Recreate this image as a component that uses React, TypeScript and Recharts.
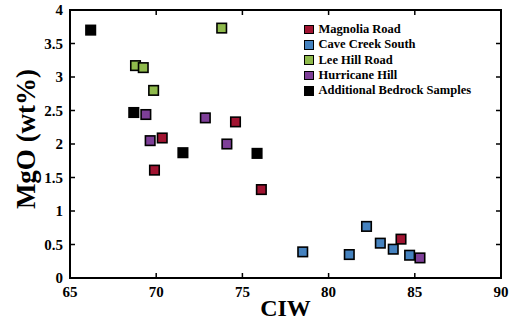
import { ReferenceArea, Scatter, ScatterChart, XAxis, YAxis } from 'recharts';

const magnoliaCiw = [74.6, 70.35, 69.9, 76.1, 84.2];
const magnoliaMgo = [2.33, 2.09, 1.61, 1.32, 0.58];

const caveCreekCiw = [78.5, 81.2, 82.2, 83.0, 83.75, 84.7];
const caveCreekMgo = [0.39, 0.35, 0.77, 0.52, 0.43, 0.34];

const leeHillCiw = [73.8, 68.8, 69.25, 69.85];
const leeHillMgo = [3.73, 3.17, 3.14, 2.8];

const hurricaneCiw = [69.4, 72.85, 69.65, 74.1, 85.3];
const hurricaneMgo = [2.44, 2.39, 2.05, 2.0, 0.3];

const bedrockCiw = [66.2, 68.7, 71.55, 75.85];
const bedrockMgo = [3.7, 2.47, 1.87, 1.86];

const xDomain = [65, 90];
const yDomain = [0, 4];
const xTicks = [65, 70, 75, 80, 85, 90];
const yTicks = [0, 0.5, 1, 1.5, 2, 2.5, 3, 3.5, 4];

const toPoints = (xs: number[], ys: number[]) => xs.map((x, i) => ({ ciw: x, mgo: ys[i] }));

const series = [
  { name: 'Magnolia Road', color: '#a11431', data: toPoints(magnoliaCiw, magnoliaMgo) },
  { name: 'Cave Creek South', color: '#4582bf', data: toPoints(caveCreekCiw, caveCreekMgo) },
  { name: 'Lee Hill Road', color: '#8fba4c', data: toPoints(leeHillCiw, leeHillMgo) },
  { name: 'Hurricane Hill', color: '#7e3f98', data: toPoints(hurricaneCiw, hurricaneMgo) },
  { name: 'Additional Bedrock Samples', color: '#000000', data: toPoints(bedrockCiw, bedrockMgo) },
];

const serif = '"Liberation Serif", "Times New Roman", serif';

function Square(props: any) {
  const { cx, cy, fill } = props;
  const s = 9.5;
  return <rect x={cx - s / 2} y={cy - s / 2} width={s} height={s} fill={fill} stroke="#000" strokeWidth={1.6} />;
}

// mirrored axes: ticks point into the plot, labels pushed back outside here
function XTick(props: any) {
  const { x, y, payload } = props;
  return (
    <text x={x} y={y + 24} textAnchor="middle" fontFamily={serif} fontWeight={700} fontSize={15} fill="#000">
      {payload.value}
    </text>
  );
}

function YTick(props: any) {
  const { x, y, payload } = props;
  return (
    <text x={x - 12} y={y + 5} textAnchor="end" fontFamily={serif} fontWeight={700} fontSize={15} fill="#000">
      {payload.value}
    </text>
  );
}

function NoTick() {
  return <g />;
}

function LegendBox() {
  return (
    <div
      style={{
        position: 'absolute',
        left: 304,
        top: 22,
        fontFamily: serif,
        fontWeight: 700,
        fontSize: 12.5,
        lineHeight: '15.3px',
        color: '#000',
      }}
    >
      {series.map((s) => (
        <div key={s.name} style={{ display: 'flex', alignItems: 'center', whiteSpace: 'nowrap' }}>
          <span
            style={{
              display: 'inline-block',
              width: 7.5,
              height: 7.5,
              background: s.color,
              border: '1.3px solid #000',
              marginRight: 5,
            }}
          />
          {s.name}
        </div>
      ))}
    </div>
  );
}

export default function App() {
  const bedrock = series[4];
  return (
    <div style={{ position: 'absolute', left: 0, top: 0, width: 518, height: 325, background: '#fff' }}>
      <ScatterChart width={518} height={325} margin={{ top: 10, right: 17, bottom: 47, left: 70 }}>
        <XAxis
          type="number"
          dataKey="ciw"
          domain={xDomain}
          ticks={xTicks}
          mirror
          stroke="#000"
          strokeWidth={2}
          tickSize={5}
          tickMargin={0}
          tick={<XTick />}
          tickLine={{ stroke: '#000', strokeWidth: 1.5 }}
          label={{
            content: ({ viewBox }: any) => (
              <text
                x={viewBox.x + viewBox.width / 2}
                y={316}
                textAnchor="middle"
                fontFamily={serif}
                fontWeight={700}
                fontSize={24}
                fill="#000"
              >
                CIW
              </text>
            ),
          }}
        />
        <XAxis
          xAxisId="t"
          orientation="top"
          type="number"
          dataKey="ciw"
          domain={xDomain}
          ticks={xTicks}
          mirror
          stroke="#000"
          strokeWidth={2}
          tickSize={5}
          tick={<NoTick />}
          tickLine={{ stroke: '#000', strokeWidth: 1.5 }}
        />
        <YAxis
          type="number"
          dataKey="mgo"
          domain={yDomain}
          ticks={yTicks}
          mirror
          stroke="#000"
          strokeWidth={2}
          tickSize={5}
          tickMargin={0}
          tick={<YTick />}
          tickLine={{ stroke: '#000', strokeWidth: 1.5 }}
          label={{
            content: () => {
              const x = 35;
              const y = 139;
              return (
                <text
                  x={x}
                  y={y}
                  transform={`rotate(-90 ${x} ${y})`}
                  textAnchor="middle"
                  fontFamily={serif}
                  fontWeight={700}
                  fontSize={27}
                  fill="#000"
                >
                  MgO (wt%)
                </text>
              );
            },
          }}
        />
        <YAxis
          yAxisId="r"
          orientation="right"
          type="number"
          dataKey="mgo"
          domain={yDomain}
          ticks={yTicks}
          mirror
          stroke="#000"
          strokeWidth={2}
          tickSize={5}
          tick={<NoTick />}
          tickLine={{ stroke: '#000', strokeWidth: 1.5 }}
        />
        {/* plot frame */}
        <ReferenceArea
          x1={xDomain[0]}
          x2={xDomain[1]}
          y1={yDomain[0]}
          y2={yDomain[1]}
          fill="none"
          fillOpacity={0}
          stroke="#000"
          strokeWidth={2}
          strokeOpacity={1}
        />
        {/* bedrock samples sit on the top/right axes (same domains) and are drawn first, under the others */}
        <Scatter
          name={bedrock.name}
          data={bedrock.data}
          xAxisId="t"
          yAxisId="r"
          fill={bedrock.color}
          shape={Square}
          isAnimationActive={false}
        />
        {series.slice(0, 4).map((s) => (
          <Scatter
            key={s.name}
            name={s.name}
            data={s.data}
            fill={s.color}
            shape={Square}
            isAnimationActive={false}
          />
        ))}
      </ScatterChart>
      <LegendBox />
    </div>
  );
}
